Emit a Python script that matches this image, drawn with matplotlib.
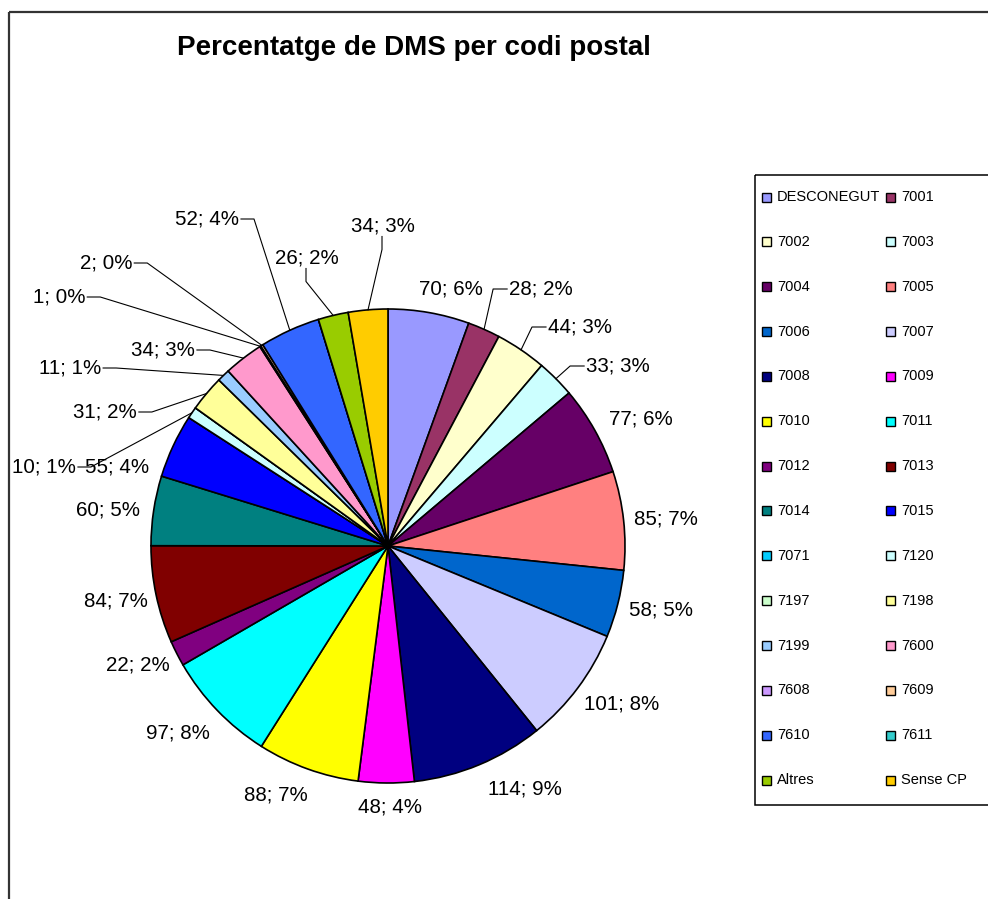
import matplotlib
matplotlib.use('Agg')
import matplotlib.pyplot as plt
from matplotlib.patches import Rectangle
import numpy as np

plt.rcParams['font.family'] = ['Liberation Sans', 'DejaVu Sans']

# ---------------- data ----------------
title = 'Percentatge de DMS per codi postal'
categories = ['DESCONEGUT', '7001', '7002', '7003', '7004', '7005', '7006', '7007',
              '7008', '7009', '7010', '7011', '7012', '7013', '7014', '7015',
              '7071', '7120', '7197', '7198', '7199', '7600', '7608', '7609',
              '7610', '7611', 'Altres', 'Sense CP']
values = [70, 28, 44, 33, 77, 85, 58, 101,
          114, 48, 88, 97, 22, 84, 60, 55,
          0, 10, 0, 31, 11, 34, 1, 2,
          52, 0, 26, 34]
colors = ['#9999FF', '#993366', '#FFFFCC', '#CCFFFF', '#660066', '#FF8080', '#0066CC', '#CCCCFF',
          '#000080', '#FF00FF', '#FFFF00', '#00FFFF', '#800080', '#800000', '#008080', '#0000FF',
          '#00CCFF', '#CCFFFF', '#CCFFCC', '#FFFF99', '#99CCFF', '#FF99CC', '#CC99FF', '#FFCC99',
          '#3366FF', '#33CCCC', '#99CC00', '#FFCC00']

# ---------------- layout (pixel positions of label text centres, leader style) ----------------
label_layout = {
    'DESCONEGUT': ((451, 289), None),
    '7001': ((541, 289), 'L'),
    '7002': ((580, 327), 'L'),
    '7003': ((618, 366), 'L'),
    '7004': ((641, 419), None),
    '7005': ((666, 519), None),
    '7006': ((661, 610), None),
    '7007': ((622, 704), None),
    '7008': ((525, 789), None),
    '7009': ((390, 807), None),
    '7010': ((276, 795), None),
    '7011': ((178, 733), None),
    '7012': ((138, 665), None),
    '7013': ((116, 601), None),
    '7014': ((108, 510), None),
    '7015': ((117, 467), None),
    '7120': ((44, 467), 'R'),
    '7198': ((105, 412), 'R'),
    '7199': ((70, 368), 'R'),
    '7600': ((163, 350), 'R'),
    '7608': ((59, 297), 'R'),
    '7609': ((106, 263), 'R'),
    '7610': ((207, 219), 'R'),
    'Altres': ((307, 258), 'B'),
    'Sense CP': ((383, 226), 'B'),
}

W, H = 988, 899
fig = plt.figure(figsize=(W / 100, H / 100), dpi=100)
ax = fig.add_axes([0, 0, 1, 1])

CX, CY, R = 388, 546, 237
wedges, _ = ax.pie(values, colors=colors, startangle=-90, counterclock=True,
                   center=(CX, CY), radius=R,
                   wedgeprops=dict(edgecolor='black', linewidth=1.2))
ax.set_xlim(0, W)
ax.set_ylim(H, 0)
ax.set_aspect('auto')
ax.axis('off')

# chart frame (left and top edges visible)
ax.plot([9, 9], [H + 5, 11.5], color='#333333', lw=1.6, clip_on=False, solid_capstyle='butt')
ax.plot([9, W + 5], [11.5, 11.5], color='#333333', lw=1.6, clip_on=False, solid_capstyle='butt')

# title
ax.text(414, 48, title, ha='center', va='center', fontsize=20, fontweight='bold')

# data labels
total = sum(values)
texts = []
for cat, v, w in zip(categories, values, wedges):
    if v == 0:
        continue
    pct = int(v / total * 100 + 0.5)
    (tx, ty), style = label_layout[cat]
    t = ax.text(tx, ty, f'{v}; {pct}%', ha='center', va='center', fontsize=14.8)
    texts.append((t, w, style))

fig.canvas.draw()
inv = ax.transData.inverted()
for t, w, style in texts:
    if style is None:
        continue
    bb = t.get_window_extent().transformed(inv)
    x0, x1 = sorted([bb.x0, bb.x1])
    y0, y1 = sorted([bb.y0, bb.y1])
    ym = (y0 + y1) / 2
    mid = np.deg2rad((w.theta1 + w.theta2) / 2)
    ex, ey = CX + R * np.cos(mid), CY + R * np.sin(mid)
    if style == 'L':
        pts = [(x0 - 2, ym), (x0 - 16, ym), (ex, ey)]
    elif style == 'R':
        pts = [(x1 + 2, ym), (x1 + 15, ym), (ex, ey)]
    else:
        xm = (x0 + x1) / 2
        pts = [(xm - 1, y1 + 1), (xm - 1, y1 + 14), (ex, ey)]
    xs, ys = zip(*pts)
    ax.plot(xs, ys, color='black', lw=0.8)

# legend
ax.add_patch(Rectangle((755, 175), 300, 630, fill=False, edgecolor='black', lw=1.1))
for i, (cat, col) in enumerate(zip(categories, colors)):
    row, c = divmod(i, 2)
    y = 197 + row * 44.85
    xm = [766, 890][c]
    ax.add_patch(Rectangle((xm - 4.5, y - 4.5), 9, 9, facecolor=col, edgecolor='black', lw=1))
    ax.text(xm + 11, y, cat, ha='left', va='center', fontsize=10.5)

fig.savefig('out.png', dpi=100)
